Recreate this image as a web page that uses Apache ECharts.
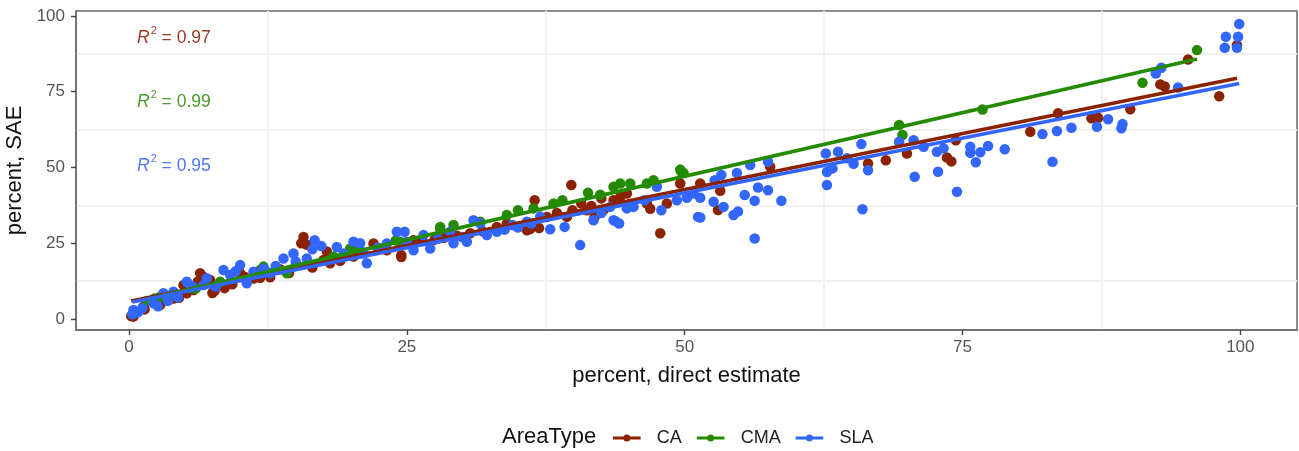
<!DOCTYPE html>
<html>
<head>
<meta charset="utf-8">
<script src="https://cdn.jsdelivr.net/npm/echarts@6/dist/echarts.min.js"></script>
<style>
  html, body { margin: 0; padding: 0; background: #fff; }
  #chart { width: 1299px; height: 451px; }
</style>
</head>
<body>
<div id="chart"></div>
<script>
// Group names and colours
const areaTypes = ['CA', 'CMA', 'SLA'];
const areaColors = ['#8B2200', '#248B00', '#3366FF'];
const r2Values = ['0.97', '0.99', '0.95'];
const r2Colors = ['#9A3A20', '#4A9A2E', '#4F78F6'];

// Axis ticks
const majorTicks = [0, 25, 50, 75, 100];
const minorTicks = [12.5, 37.5, 62.5, 87.5];

// [direct estimate, SAE] pairs per area type
const caPoints = [
  [0.2,1.0],[0.4,0.8],[0.5,2.4],[1.3,4.1],[1.4,3.2],[2.8,4.6],[3.4,6.3],[4.0,6.8],[4.5,7.0],[4.9,11.2],
  [5.2,8.5],[5.8,9.6],[6.2,12.4],[6.4,15.1],[6.6,14.2],[7.3,12.9],[7.5,8.6],[7.7,9.3],[8.6,10.2],[9.3,11.5],
  [10.0,15.1],[10.4,14.0],[11.2,13.4],[11.8,13.6],[12.7,13.8],[13.6,16.4],[14.4,15.2],[15.5,25.0],[15.7,27.1],[16.0,24.5],
  [16.5,17.0],[17.5,19.5],[17.8,22.3],[18.1,18.4],[19.0,19.2],[20.2,20.6],[21.0,22.0],[22.0,24.9],[22.6,23.3],[23.2,22.7],
  [24.5,21.1],[24.5,20.5],[25.6,26.0],[26.4,25.8],[27.5,26.2],[28.3,26.7],[29.5,27.5],[30.7,28.3],[31.8,29.0],[33.1,30.4],
  [34.0,31.5],[35.8,29.3],[36.1,29.7],[36.5,39.2],[36.9,30.0],[37.6,33.7],[38.5,35.0],[39.4,33.7],[39.8,44.2],[39.9,35.9],
  [40.7,38.1],[41.2,35.9],[41.6,37.3],[41.9,33.7],[42.5,39.8],[42.7,36.0],[43.6,39.2],[44.2,40.3],[44.8,41.4],[45.1,37.9],
  [46.6,38.1],[46.9,36.4],[47.8,28.3],[48.4,38.1],[49.6,44.7],[51.4,44.7],[53.0,36.0],[53.2,42.3],[57.7,50.2],[66.5,51.3],
  [68.1,52.4],[70.0,54.6],[73.6,53.3],[74.0,52.0],[74.4,59.0],[81.1,61.8],[83.6,67.9],[86.6,66.2],[87.2,66.4],[90.1,69.2],
  [92.8,77.4],[93.2,76.7],[95.3,85.6],[98.1,73.5],[99.7,90.3]
];
const cmaPoints = [
  [1.6,6.0],[2.3,6.8],[2.8,7.4],[4.0,8.0],[5.5,10.2],[6.0,10.1],[8.2,12.3],[11.8,16.2],[12.1,17.3],[12.4,15.6],
  [14.2,15.1],[18.4,20.6],[19.9,22.7],[19.9,23.3],[20.5,23.8],[24.0,25.9],[24.4,25.5],[28.0,29.8],[28.0,30.4],[29.2,31.0],
  [31.6,32.1],[34.0,34.3],[35.0,35.9],[36.4,36.5],[38.2,38.1],[39.0,39.2],[41.3,41.7],[42.4,41.0],[43.6,43.6],[44.2,44.7],
  [45.1,44.7],[46.6,44.7],[47.2,45.8],[49.6,49.3],[49.9,48.2],[49.7,48.6],[69.3,64.0],[69.6,60.7],[76.8,69.1],[91.2,77.9],
  [96.1,88.7]
];
const slaPoints = [
  [0.3,1.6],[0.4,3.0],[0.8,2.2],[1.2,3.6],[2.2,5.2],[2.6,4.2],[3.1,8.5],[3.5,6.0],[4.0,9.0],[4.4,7.2],
  [5.2,12.3],[5.6,11.0],[6.7,11.2],[7.0,13.5],[7.8,10.7],[8.5,16.2],[9.1,14.5],[9.6,15.8],[10.0,17.8],[10.6,11.8],
  [11.2,15.6],[12.1,16.7],[12.7,15.1],[13.2,17.5],[13.9,20.0],[14.8,21.6],[15.0,19.0],[16.0,20.0],[16.5,23.0],[16.7,26.0],
  [17.3,24.1],[18.7,23.8],[19.3,21.6],[20.2,25.5],[20.8,25.0],[21.1,21.6],[21.4,18.4],[22.4,23.5],[23.2,24.9],[24.1,28.8],
  [24.8,28.8],[25.0,25.5],[25.6,22.7],[26.5,27.7],[27.1,23.3],[27.8,26.5],[28.9,28.8],[29.2,25.0],[30.0,27.0],[30.4,25.5],
  [31.0,32.6],[31.6,31.5],[32.2,27.7],[33.1,28.8],[33.8,29.5],[34.5,31.0],[35.0,30.2],[35.8,32.1],[36.2,31.5],[37.0,33.8],
  [37.9,29.6],[39.2,30.4],[40.6,24.4],[41.8,32.6],[42.5,35.0],[43.3,37.0],[43.6,32.6],[43.8,32.3],[44.1,31.5],[44.8,36.5],
  [45.4,37.0],[46.4,39.2],[47.5,43.6],[47.9,35.9],[49.3,39.2],[50.2,40.0],[50.8,41.4],[51.2,33.7],[51.4,33.5],[51.4,40.0],
  [52.6,38.7],[52.7,45.8],[53.3,47.5],[53.5,37.0],[54.4,34.3],[54.7,48.2],[54.8,35.5],[55.4,40.9],[55.9,50.8],[56.3,39.0],
  [56.3,26.6],[56.6,43.4],[57.5,42.5],[57.5,51.9],[58.7,39.0],[62.7,54.6],[62.8,44.2],[62.8,48.5],[63.3,49.7],[63.8,55.2],
  [64.6,53.0],[65.2,51.2],[65.9,57.7],[66.0,36.2],[66.5,49.1],[69.3,58.5],[70.6,59.0],[70.7,46.9],[71.5,56.8],[72.7,55.2],
  [72.8,48.6],[73.3,56.3],[74.5,42.0],[75.7,56.8],[75.7,54.8],[76.2,51.7],[76.6,55.0],[77.3,57.1],[78.8,56.0],[82.2,61.0],
  [83.1,51.9],[83.5,62.0],[84.8,63.1],[87.1,63.4],[88.1,65.9],[89.3,62.9],[89.4,64.3],[92.4,81.0],[92.9,82.9],[94.4,76.4],
  [98.6,89.5],[98.7,93.1],[99.7,89.5],[99.8,93.1],[99.9,97.3]
];

// Linear fit endpoints per area type
const caFit = [[0.2, 6.0], [99.7, 79.4]];
const cmaFit = [[1.6, 6.5], [96.1, 85.8]];
const slaFit = [[0.3, 5.6], [99.9, 77.7]];

const pointSets = [caPoints, cmaPoints, slaPoints];
const fitSets = [caFit, cmaFit, slaFit];

const FONT = '"Liberation Sans", Arial, Helvetica, sans-serif';
const chart = echarts.init(document.getElementById('chart'), null, { renderer: 'canvas' });

const scatterSeries = areaTypes.map((name, i) => ({
  name: name,
  type: 'scatter',
  data: pointSets[i],
  symbolSize: 10.5,
  itemStyle: { color: areaColors[i], opacity: 1 },
  emphasis: { disabled: true },
  z: 2
}));

const fitSeries = areaTypes.map((name, i) => ({
  name: name,
  type: 'line',
  data: fitSets[i],
  showSymbol: false,
  symbol: 'none',
  lineStyle: { color: areaColors[i], width: 3.6 },
  itemStyle: { color: areaColors[i] },
  emphasis: { disabled: true },
  silent: true,
  z: 3
}));

// R² annotations in the upper-left corner
const r2Graphics = areaTypes.map((name, i) => ({
  type: 'text',
  left: 137,
  top: 25 + i * 64,
  style: {
    text: '{i|R}{s|2}{n| = ' + r2Values[i] + '}',
    rich: {
      i: { fontFamily: FONT, fontSize: 17.5, fontStyle: 'italic', fill: r2Colors[i], lineHeight: 22, verticalAlign: 'bottom' },
      s: { fontFamily: FONT, fontSize: 11, fill: r2Colors[i], lineHeight: 22, verticalAlign: 'top', padding: [0, 0, 0, 1] },
      n: { fontFamily: FONT, fontSize: 17.5, fill: r2Colors[i], lineHeight: 22, verticalAlign: 'bottom' }
    }
  }
}));

// Legend key: a line segment with a dot in the middle (both sub-paths wound the same way)
const legendIcon = 'path://M0,5 L30,5 L30,8.5 L0,8.5 Z M11.2,6.75 A3.8,3.8 0 1 1 18.8,6.75 A3.8,3.8 0 1 1 11.2,6.75 Z';

const hiddenAxisParts = {
  axisLine: { show: false, onZero: false },
  axisTick: { show: false, customValues: minorTicks },
  axisLabel: { show: false, customValues: minorTicks },
  splitLine: { show: true, lineStyle: { color: '#F0F0F0', width: 2 } }
};

const axisLineStyle = { show: true, onZero: false, lineStyle: { color: '#6a6a6a', width: 1.5 } };
const axisTickStyle = { show: true, length: 5, customValues: majorTicks, lineStyle: { color: '#444', width: 1.4 } };

chart.setOption({
  animation: false,
  backgroundColor: '#ffffff',
  textStyle: { fontFamily: FONT },
  grid: {
    left: 76, top: 11, right: 2, bottom: 121,
    outerBoundsMode: 'none',
    show: true, borderColor: '#6a6a6a', borderWidth: 1.5, backgroundColor: 'transparent'
  },
  xAxis: [
    {
      type: 'value', min: -4.77, max: 105.1, position: 'bottom',
      name: 'percent, direct estimate', nameLocation: 'middle', nameGap: 35,
      nameTextStyle: { fontFamily: FONT, fontSize: 22, color: '#111' },
      axisLine: axisLineStyle,
      axisTick: axisTickStyle,
      axisLabel: { customValues: majorTicks, margin: 9, fontFamily: FONT, fontSize: 17, color: '#555' },
      splitLine: { show: false }
    },
    Object.assign({ type: 'value', min: -4.77, max: 105.1, position: 'top' }, hiddenAxisParts)
  ],
  yAxis: [
    {
      type: 'value', min: -3.6, max: 101.6, position: 'left',
      name: 'percent, SAE', nameLocation: 'middle', nameGap: 46,
      nameTextStyle: { fontFamily: FONT, fontSize: 22, color: '#111' },
      axisLine: axisLineStyle,
      axisTick: axisTickStyle,
      axisLabel: { customValues: majorTicks, margin: 11, fontFamily: FONT, fontSize: 17, color: '#555' },
      splitLine: { show: false }
    },
    Object.assign({ type: 'value', min: -3.6, max: 101.6, position: 'right' }, hiddenAxisParts)
  ],
  legend: {
    data: areaTypes.map(n => ({ name: n, icon: legendIcon })),
    left: 613, top: 429, padding: 0,
    orient: 'horizontal',
    itemWidth: 30, itemHeight: 7, itemGap: 15,
    selectedMode: false,
    textStyle: { fontFamily: FONT, fontSize: 18, color: '#222', padding: [0, 0, 0, 10] }
  },
  graphic: [
    {
      type: 'text', left: 502, top: 426,
      style: { text: 'AreaType', font: '22px ' + FONT, fill: '#111' }
    }
  ].concat(r2Graphics),
  series: scatterSeries.concat(fitSeries)
});
</script>
</body>
</html>
